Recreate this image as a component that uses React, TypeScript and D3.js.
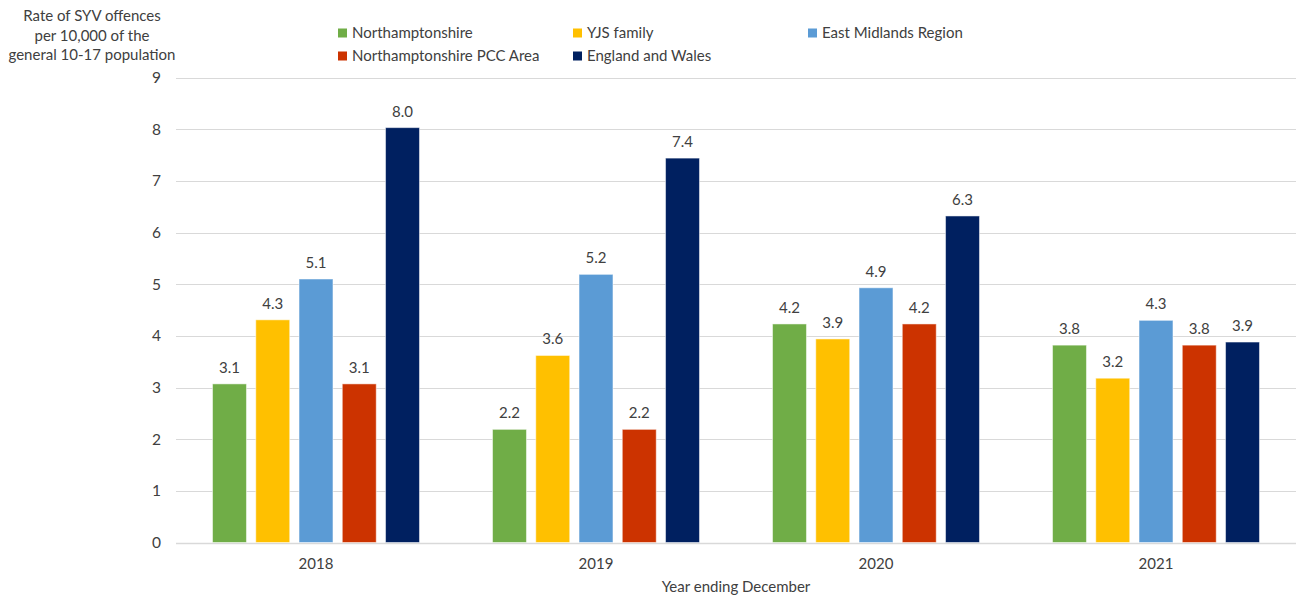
import React from "react";
import * as d3 from "d3";

const years = ["2018", "2019", "2020", "2021"];
const seriesNames = [
  "Northamptonshire",
  "YJS family",
  "East Midlands Region",
  "Northamptonshire PCC Area",
  "England and Wales",
];
const seriesColors = ["#70AD47", "#FFC000", "#5B9BD5", "#CC3300", "#002060"];
const northamptonshire = [3.07, 2.19, 4.23, 3.82];
const yjsFamily = [4.31, 3.62, 3.94, 3.18];
const eastMidlands = [5.1, 5.19, 4.93, 4.3];
const pccArea = [3.07, 2.19, 4.23, 3.82];
const englandWales = [8.03, 7.44, 6.32, 3.88];
const yTicks = [0, 1, 2, 3, 4, 5, 6, 7, 8, 9];
const yTitleLines = ["Rate of SYV offences", "per 10,000 of the", "general 10-17 population"];
const xTitle = "Year ending December";

const values = [northamptonshire, yjsFamily, eastMidlands, pccArea, englandWales];

const W = 1301;
const H = 596;
const FONT = "Lato, 'Liberation Sans', sans-serif";
const TEXT = "#404040";
const FS = 15;

export default function App() {
  const x = d3.scaleBand<string>().domain(years).range([176, 1296]).padding(0);
  const bw = x.bandwidth();
  const inner = d3
    .scaleBand<string>()
    .domain(seriesNames)
    .range([bw * 0.1304, bw * (1 - 0.1304)])
    .paddingInner(0.215)
    .paddingOuter(0);
  const y = d3.scaleLinear().domain([0, 9]).range([542.5, 77.5]);

  const legendCols = [338, 573, 808];
  const legendRows = [33, 56];

  return (
    <svg
      width={W}
      height={H}
      style={{ position: "absolute", left: 0, top: 0, background: "#fff" }}
      fontFamily={FONT}
    >
      {yTicks.map((t) => (
        <line
          key={"g" + t}
          x1={176}
          x2={1296}
          y1={Math.round(y(t)) + 0.5}
          y2={Math.round(y(t)) + 0.5}
          stroke="#d9d9d9"
          strokeWidth={t === 0 ? 1.5 : 1}
        />
      ))}
      {yTicks.map((t) => (
        <text
          key={"t" + t}
          x={161}
          y={y(t) + 5.5}
          textAnchor="end"
          fontSize={15.5}
          fill={TEXT}
        >
          {t}
        </text>
      ))}
      {yTitleLines.map((l, i) => (
        <text key={"yt" + i} x={92} y={21 + i * 19.6} textAnchor="middle" fontSize={FS} fill={TEXT}>
          {l}
        </text>
      ))}
      {years.map((yr, yi) => (
        <g key={yr} transform={`translate(${x(yr)},0)`}>
          {seriesNames.map((s, si) => {
            const v = values[si][yi];
            const bx = inner(s) as number;
            return (
              <g key={s}>
                <rect
                  x={bx}
                  y={y(v)}
                  width={inner.bandwidth()}
                  height={y(0) - y(v)}
                  fill={seriesColors[si]}
                  stroke="#ffffff"
                  strokeOpacity={0.5}
                  strokeWidth={1}
                />
                <text
                  x={bx + inner.bandwidth() / 2}
                  y={y(v) - 11}
                  textAnchor="middle"
                  fontSize={FS}
                  fill={TEXT}
                >
                  {v.toFixed(1)}
                </text>
              </g>
            );
          })}
          <text x={bw / 2} y={569} textAnchor="middle" fontSize={FS} fill={TEXT}>
            {yr}
          </text>
        </g>
      ))}
      <text x={736} y={592} textAnchor="middle" fontSize={FS} fill={TEXT}>
        {xTitle}
      </text>
      {seriesNames.map((s, i) => {
        const col = i < 3 ? i : i - 3;
        const row = i < 3 ? 0 : 1;
        const lx = legendCols[col];
        const ly = legendRows[row];
        return (
          <g key={"l" + s}>
            <rect x={lx} y={ly - 4.5} width={9} height={9} fill={seriesColors[i]} />
            <text x={lx + 14} y={ly + 5} fontSize={FS} fill={TEXT}>
              {s}
            </text>
          </g>
        );
      })}
    </svg>
  );
}
